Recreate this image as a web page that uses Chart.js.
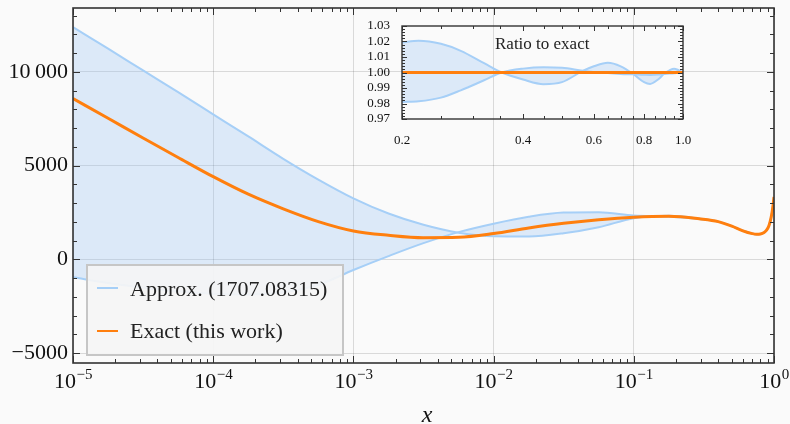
<!DOCTYPE html>
<html>
<head>
<meta charset="utf-8">
<script src="https://cdn.jsdelivr.net/npm/chart.js@4.4.0/dist/chart.umd.min.js"></script>
<style>
  body { margin: 0; background: #fafafa; }
  #wrap { position: relative; width: 790px; height: 424px; }
  #main { position: absolute; left: 0; top: 0; }
  #inset { position: absolute; left: 360px; top: 16px; }
</style>
</head>
<body>
<div id="wrap">
  <canvas id="main" width="790" height="424"></canvas>
  <canvas id="inset" width="340" height="130"></canvas>
</div>
<script>
// main panel data (quarter-decade steps, denser near x = 1)
const xs = [1e-5, 1.78e-5, 3.16e-5, 5.62e-5, 1e-4, 1.78e-4, 3.16e-4, 5.62e-4, 1e-3, 1.78e-3, 3.16e-3, 5.62e-3,
  1e-2, 1.78e-2, 3.16e-2, 5.62e-2, 0.1, 0.178, 0.3, 0.4, 0.5, 0.6, 0.7, 0.75, 0.8, 0.85, 0.885, 0.92, 0.95,
  0.97, 0.985, 1.0];
const approxUpper = [12390, 11240, 10080, 8920, 7740, 6560, 5370, 4260, 3260, 2450, 1850, 1430,
  1240, 1230, 1400, 1720, 2200, 2330, 2170, 2020, 1780, 1530, 1380, 1345, 1360, 1440, 1560, 1800, 2180,
  2550, 2900, 3330];
const approxLower = [-950, -1250, -1500, -1700, -1830, -1870, -1750, -1350, -560, 180, 870, 1460,
  1910, 2280, 2500, 2520, 2340, 2280, 2150, 2020, 1780, 1530, 1380, 1345, 1360, 1440, 1560, 1800, 2180,
  2550, 2900, 3330];
const exact = [8580, 7530, 6480, 5440, 4415, 3480, 2700, 2020, 1520, 1290, 1160, 1180,
  1380, 1680, 1930, 2120, 2250, 2300, 2160, 2020, 1780, 1530, 1380, 1345, 1360, 1440, 1560, 1800, 2180,
  2550, 2900, 3330];

const xDecades = [1e-5, 1e-4, 1e-3, 1e-2, 1e-1, 1];
const xExponents = ['\u22125', '\u22124', '\u22123', '\u22122', '\u22121', '0'];
const yTicks = [-5000, 0, 5000, 10000];
const yTickLabels = ['\u22125000', '0', '5000', '10\u2009000'];

// inset: ratio to exact
const insetX = [0.2, 0.22, 0.25, 0.28, 0.32, 0.354, 0.4, 0.45, 0.5, 0.563, 0.6, 0.65, 0.7, 0.754,
  0.8, 0.828, 0.87, 0.9, 0.95, 0.975, 1.0];
const ratioA = [1.0195, 1.0205, 1.0185, 1.014, 1.006, 1.0, 0.9955, 0.9925, 0.9938, 1.001, 1.004, 1.0063,
  1.004, 0.9988, 0.9938, 0.9926, 0.9958, 0.9995, 1.0025, 1.0015, 1.0];
const ratioB = [0.9810, 0.9814, 0.9838, 0.9885, 0.995, 1.0, 1.0025, 1.0034, 1.003, 1.0012, 1.0004, 0.9996,
  0.9991, 0.9988, 0.9985, 0.9984, 0.9987, 0.9991, 0.9995, 0.9998, 1.0];
const ratioExactX = [0.2, 1.0];
const ratioExact = [1, 1];
const insetXTicks = [0.2, 0.4, 0.6, 0.8, 1.0];
const insetYTicks = [0.97, 0.98, 0.99, 1.00, 1.01, 1.02, 1.03];

const SERIF = 'Liberation Serif';
const BLUE = '#a6cff7';
const BLUE_FILL = 'rgba(130,185,245,0.25)';
const ORANGE = '#ff7f0e';

const pts = (x, y) => x.map((v, i) => ({ x: v, y: y[i] }));

// inward ticks on all four sides + frame
function tickFrame(o) {
  return {
    id: 'tickFrame',
    afterDatasetsDraw(chart) {
      const { ctx, chartArea: a, scales: { x, y } } = chart;
      ctx.save();
      ctx.strokeStyle = '#333';
      ctx.lineWidth = o.tickWidth;
      ctx.beginPath();
      const xMark = (v, len) => {
        const px = Math.round(x.getPixelForValue(v)) + 0.5;
        ctx.moveTo(px, a.bottom); ctx.lineTo(px, a.bottom - len);
        ctx.moveTo(px, a.top); ctx.lineTo(px, a.top + len);
      };
      const yMark = (v, len) => {
        const py = Math.round(y.getPixelForValue(v)) + 0.5;
        ctx.moveTo(a.left, py); ctx.lineTo(a.left + len, py);
        ctx.moveTo(a.right, py); ctx.lineTo(a.right - len, py);
      };
      o.xMajor.forEach(v => xMark(v, o.major));
      o.xMinor.forEach(v => xMark(v, o.minor));
      o.yMajor.forEach(v => yMark(v, o.major));
      o.yMinor.forEach(v => yMark(v, o.minor));
      ctx.stroke();
      ctx.lineWidth = o.frameWidth;
      ctx.strokeRect(a.left, a.top, a.right - a.left, a.bottom - a.top);
      ctx.restore();
    }
  };
}

const mainXMinor = [];
xDecades.slice(0, -1).forEach(d => { for (let k = 2; k <= 9; k++) mainXMinor.push(d * k); });
const mainYMinor = [];
for (let v = -5000; v <= 13000; v += 1000) if (v % 5000) mainYMinor.push(v);

const mainExtras = {
  id: 'mainExtras',
  afterDraw(chart) {
    const { ctx, scales: { x } } = chart;
    ctx.save();
    ctx.fillStyle = '#111';
    ctx.textBaseline = 'alphabetic';
    // x tick labels 10^n
    xDecades.forEach((v, i) => {
      const px = x.getPixelForValue(v);
      ctx.font = '22px ' + SERIF;
      const w1 = ctx.measureText('10').width;
      ctx.font = '15px ' + SERIF;
      const w2 = ctx.measureText(xExponents[i]).width;
      const left = px - (w1 + w2) / 2;
      ctx.font = '22px ' + SERIF;
      ctx.fillText('10', left, 388);
      ctx.font = '15px ' + SERIF;
      ctx.fillText(xExponents[i], left + w1 + 0.5, 379);
    });
    // axis title
    ctx.font = 'italic 24px ' + SERIF;
    ctx.textAlign = 'center';
    ctx.fillText('x', 427, 422);
    ctx.textAlign = 'left';

    // legend
    ctx.fillStyle = 'rgba(245,245,245,0.92)';
    ctx.fillRect(87, 265, 256, 90);
    ctx.strokeStyle = '#c6c6c6';
    ctx.lineWidth = 2;
    ctx.strokeRect(87, 265, 256, 90);
    ctx.strokeStyle = BLUE;
    ctx.beginPath(); ctx.moveTo(97, 288); ctx.lineTo(118, 288); ctx.stroke();
    ctx.strokeStyle = ORANGE;
    ctx.beginPath(); ctx.moveTo(97, 331); ctx.lineTo(118, 331); ctx.stroke();
    ctx.fillStyle = '#222';
    ctx.font = '22px ' + SERIF;
    ctx.fillText(chart.data.datasets[0].label, 130, 296);
    ctx.fillText(chart.data.datasets[2].label, 130, 338);
    ctx.restore();
  }
};

new Chart(document.getElementById('main'), {
  type: 'scatter',
  data: {
    datasets: [
      { label: 'Approx. (1707.08315)', data: pts(xs, approxUpper), showLine: true,
        borderColor: BLUE, borderWidth: 2, backgroundColor: BLUE_FILL, fill: 1, order: 2 },
      { label: 'approx-lower', data: pts(xs, approxLower), showLine: true,
        borderColor: BLUE, borderWidth: 2, fill: false, order: 1 },
      { label: 'Exact (this work)', data: pts(xs, exact), showLine: true,
        borderColor: ORANGE, borderWidth: 3, fill: false, order: 0 }
    ]
  },
  options: {
    responsive: false,
    animation: false,
    events: [],
    elements: { point: { radius: 0 }, line: { cubicInterpolationMode: 'monotone' } },
    layout: { padding: { top: 8, right: 16, left: 0, bottom: 0 } },
    plugins: { legend: { display: false }, tooltip: { enabled: false } },
    scales: {
      x: {
        type: 'logarithmic', min: 1e-5, max: 1,
        afterBuildTicks: s => { s.ticks = xDecades.map(v => ({ value: v })); },
        afterFit: s => { s.height = 61; s.paddingLeft = 0; s.paddingRight = 0; },
        ticks: { display: false },
        grid: { color: 'rgba(0,0,0,0.13)', lineWidth: 1, drawTicks: false },
        border: { display: false }
      },
      y: {
        min: -5520, max: 13410,
        afterBuildTicks: s => { s.ticks = yTicks.map(v => ({ value: v })); },
        afterFit: s => { s.width = 73; s.paddingTop = 0; s.paddingBottom = 0; },
        ticks: {
          callback: v => yTickLabels[yTicks.indexOf(v)],
          font: { family: SERIF, size: 22 }, color: '#111', padding: 5, autoSkip: false
        },
        grid: { color: 'rgba(0,0,0,0.13)', lineWidth: 1, drawTicks: false },
        border: { display: false }
      }
    }
  },
  plugins: [tickFrame({ xMajor: xDecades, xMinor: mainXMinor, yMajor: yTicks, yMinor: mainYMinor,
    major: 7, minor: 4, tickWidth: 1, frameWidth: 1.6 }), mainExtras]
});

const insetXMinor = [];
for (let k = 5; k < 20; k++) {
  const r = k * 0.05;
  if (!insetXTicks.some(t => Math.abs(t - r) < 1e-9)) insetXMinor.push(r);
}
const insetYMinor = [];
for (let k = 0; k <= 30; k++) if (k % 5) insetYMinor.push(0.97 + k * 0.002);

const insetTitle = {
  id: 'insetTitle',
  afterDraw(chart) {
    const { ctx } = chart;
    ctx.save();
    ctx.fillStyle = '#222';
    ctx.font = '17px ' + SERIF;
    ctx.fillText('Ratio to exact', 135, 33);
    ctx.restore();
  }
};

new Chart(document.getElementById('inset'), {
  type: 'scatter',
  data: {
    datasets: [
      { data: pts(insetX, ratioA), showLine: true, borderColor: BLUE, borderWidth: 2,
        backgroundColor: BLUE_FILL, fill: 1, order: 2 },
      { data: pts(insetX, ratioB), showLine: true, borderColor: BLUE, borderWidth: 2, fill: false, order: 1 },
      { data: pts(ratioExactX, ratioExact), showLine: true, borderColor: ORANGE, borderWidth: 3,
        fill: false, order: 0 }
    ]
  },
  options: {
    responsive: false,
    animation: false,
    events: [],
    elements: { point: { radius: 0 }, line: { cubicInterpolationMode: 'monotone' } },
    layout: { padding: { top: 10, right: 17, left: 0, bottom: 0 } },
    plugins: { legend: { display: false }, tooltip: { enabled: false } },
    scales: {
      x: {
        type: 'logarithmic', min: 0.2, max: 1.0,
        afterBuildTicks: s => { s.ticks = insetXTicks.map(v => ({ value: v })); },
        afterFit: s => { s.height = 27; s.paddingLeft = 0; s.paddingRight = 0; },
        ticks: { callback: v => Number(v).toFixed(1), font: { family: SERIF, size: 13 },
          color: '#111', padding: 6, maxRotation: 0, autoSkip: false },
        grid: { display: false },
        border: { display: false }
      },
      y: {
        min: 0.97, max: 1.03,
        afterBuildTicks: s => { s.ticks = insetYTicks.map(v => ({ value: v })); },
        afterFit: s => { s.width = 42; s.paddingTop = 0; s.paddingBottom = 0; },
        ticks: { callback: v => Number(v).toFixed(2), font: { family: SERIF, size: 13 },
          color: '#111', padding: 4, autoSkip: false },
        grid: { display: false },
        border: { display: false }
      }
    }
  },
  plugins: [tickFrame({ xMajor: insetXTicks, xMinor: insetXMinor, yMajor: insetYTicks, yMinor: insetYMinor,
    major: 5, minor: 3, tickWidth: 1, frameWidth: 1.4 }), insetTitle]
});
</script>
</body>
</html>
